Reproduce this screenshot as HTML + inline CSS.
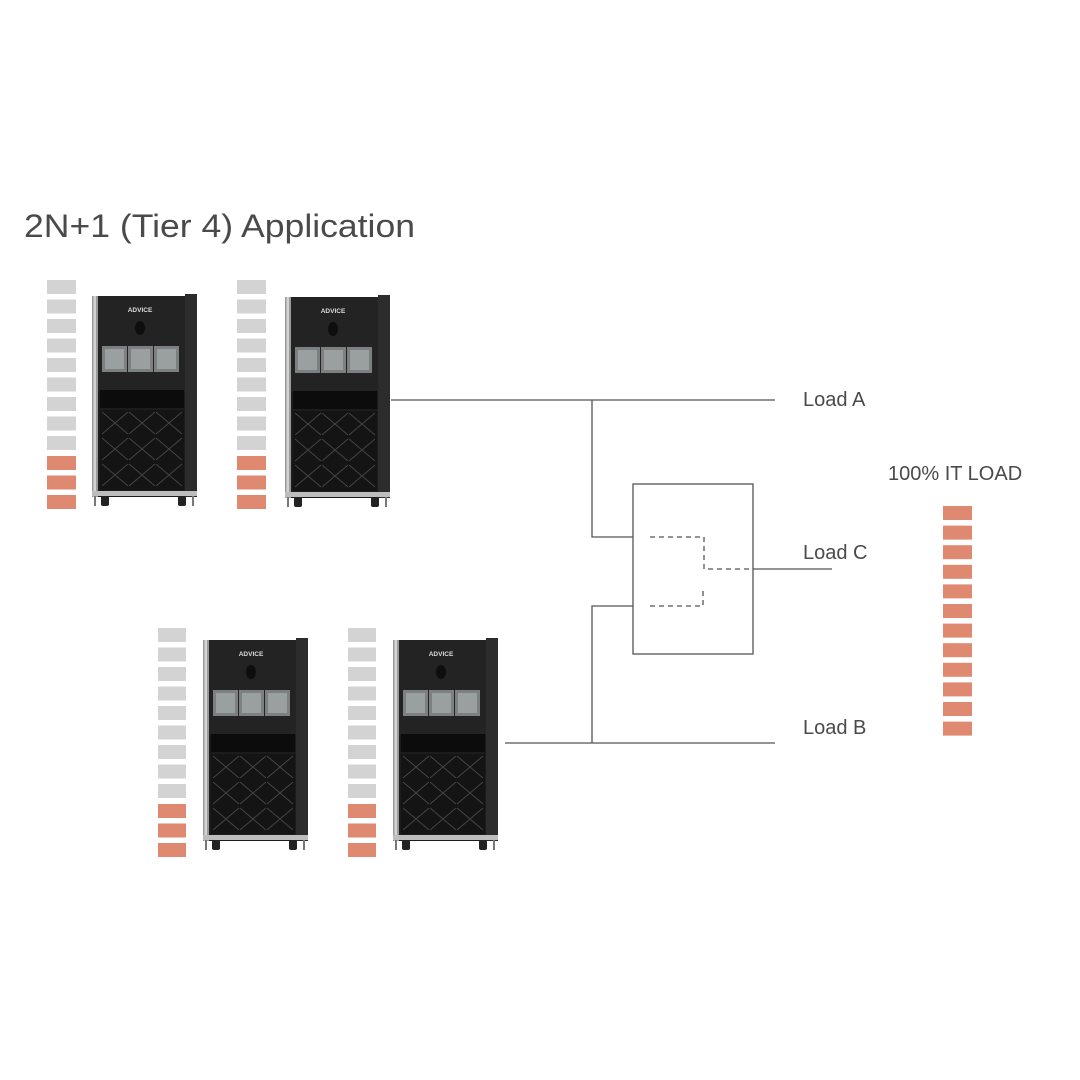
<!DOCTYPE html>
<html><head><meta charset="utf-8"><style>
html,body{margin:0;padding:0;background:#fff;}
svg{display:block;}
text{font-family:"Liberation Sans",sans-serif;}
</style></head><body>
<svg width="1080" height="1080" viewBox="0 0 1080 1080" xmlns="http://www.w3.org/2000/svg">
<rect width="1080" height="1080" fill="#fff"/>
<text x="24" y="237" font-size="32" fill="#4a4a4a" textLength="391" lengthAdjust="spacingAndGlyphs">2N+1 (Tier 4) Application</text>

<!-- bars col1 -->
<g fill="#d3d3d3">
<rect x="47" y="280" width="29" height="14"/><rect x="47" y="299.5" width="29" height="14"/><rect x="47" y="319" width="29" height="14"/><rect x="47" y="338.5" width="29" height="14"/><rect x="47" y="358" width="29" height="14"/><rect x="47" y="377.5" width="29" height="14"/><rect x="47" y="397" width="29" height="14"/><rect x="47" y="416.5" width="29" height="14"/><rect x="47" y="436" width="29" height="14"/>
<rect x="237" y="280" width="29" height="14"/><rect x="237" y="299.5" width="29" height="14"/><rect x="237" y="319" width="29" height="14"/><rect x="237" y="338.5" width="29" height="14"/><rect x="237" y="358" width="29" height="14"/><rect x="237" y="377.5" width="29" height="14"/><rect x="237" y="397" width="29" height="14"/><rect x="237" y="416.5" width="29" height="14"/><rect x="237" y="436" width="29" height="14"/>
<rect x="158" y="628" width="28" height="14"/><rect x="158" y="647.5" width="28" height="14"/><rect x="158" y="667" width="28" height="14"/><rect x="158" y="686.5" width="28" height="14"/><rect x="158" y="706" width="28" height="14"/><rect x="158" y="725.5" width="28" height="14"/><rect x="158" y="745" width="28" height="14"/><rect x="158" y="764.5" width="28" height="14"/><rect x="158" y="784" width="28" height="14"/>
<rect x="348" y="628" width="28" height="14"/><rect x="348" y="647.5" width="28" height="14"/><rect x="348" y="667" width="28" height="14"/><rect x="348" y="686.5" width="28" height="14"/><rect x="348" y="706" width="28" height="14"/><rect x="348" y="725.5" width="28" height="14"/><rect x="348" y="745" width="28" height="14"/><rect x="348" y="764.5" width="28" height="14"/><rect x="348" y="784" width="28" height="14"/>
</g>
<g fill="#df8a70">
<rect x="47" y="456" width="29" height="14"/><rect x="47" y="475.5" width="29" height="14"/><rect x="47" y="495" width="29" height="14"/>
<rect x="237" y="456" width="29" height="14"/><rect x="237" y="475.5" width="29" height="14"/><rect x="237" y="495" width="29" height="14"/>
<rect x="158" y="804" width="28" height="14"/><rect x="158" y="823.5" width="28" height="14"/><rect x="158" y="843" width="28" height="14"/>
<rect x="348" y="804" width="28" height="14"/><rect x="348" y="823.5" width="28" height="14"/><rect x="348" y="843" width="28" height="14"/>
<rect x="943" y="506" width="29" height="14"/><rect x="943" y="525.6" width="29" height="14"/><rect x="943" y="545.2" width="29" height="14"/><rect x="943" y="564.8" width="29" height="14"/><rect x="943" y="584.4" width="29" height="14"/><rect x="943" y="604" width="29" height="14"/><rect x="943" y="623.6" width="29" height="14"/><rect x="943" y="643.2" width="29" height="14"/><rect x="943" y="662.8" width="29" height="14"/><rect x="943" y="682.4" width="29" height="14"/><rect x="943" y="702" width="29" height="14"/><rect x="943" y="721.6" width="29" height="14"/>
</g>

<!-- cabinets -->
<g transform="translate(92,296)">
<rect x="0" y="0" width="105" height="201" fill="#1c1c1c"/><rect x="0" y="0" width="6" height="201" fill="#9a9a9a"/><rect x="1.5" y="0" width="2.5" height="201" fill="#d4d4d4"/><rect x="93" y="-2" width="12" height="203" fill="#2c2c2c"/><rect x="6" y="0" width="87" height="95" fill="#232323"/>
<text x="48" y="16" font-size="6.5" fill="#ddd" text-anchor="middle" font-weight="bold">ADVICE</text>
<ellipse cx="48" cy="32" rx="5" ry="7" fill="#0e0e0e"/>
<rect x="10" y="50" width="25" height="26" fill="#7c8080"/><rect x="36" y="50" width="25" height="26" fill="#7c8080"/><rect x="62" y="50" width="25" height="26" fill="#7c8080"/>
<rect x="13" y="53" width="19" height="20" fill="#9aa0a0"/><rect x="39" y="53" width="19" height="20" fill="#9aa0a0"/><rect x="65" y="53" width="19" height="20" fill="#9aa0a0"/>
<rect x="8" y="94" width="84" height="18" fill="#0c0c0c"/>
<rect x="8" y="114" width="84" height="80" fill="#141414"/>
<g stroke="#444" stroke-width="1" fill="none"><path d="M10 116l26 22M36 116l-26 22M37 116l26 22M63 116l-26 22M64 116l26 22M90 116l-26 22M10 142l26 22M36 142l-26 22M37 142l26 22M63 142l-26 22M64 142l26 22M90 142l-26 22M10 168l26 22M36 168l-26 22M37 168l26 22M63 168l-26 22M64 168l26 22M90 168l-26 22"/></g>
<rect x="0" y="195" width="105" height="5" fill="#bdbdbd"/>
<rect x="9" y="200" width="8" height="10" rx="2" fill="#222"/><rect x="86" y="200" width="8" height="10" rx="2" fill="#222"/><rect x="2" y="200" width="2" height="10" fill="#777"/><rect x="100" y="200" width="2" height="10" fill="#777"/>
</g>
<g transform="translate(285,297)">
<rect x="0" y="0" width="105" height="201" fill="#1c1c1c"/><rect x="0" y="0" width="6" height="201" fill="#9a9a9a"/><rect x="1.5" y="0" width="2.5" height="201" fill="#d4d4d4"/><rect x="93" y="-2" width="12" height="203" fill="#2c2c2c"/><rect x="6" y="0" width="87" height="95" fill="#232323"/>
<text x="48" y="16" font-size="6.5" fill="#ddd" text-anchor="middle" font-weight="bold">ADVICE</text>
<ellipse cx="48" cy="32" rx="5" ry="7" fill="#0e0e0e"/>
<rect x="10" y="50" width="25" height="26" fill="#7c8080"/><rect x="36" y="50" width="25" height="26" fill="#7c8080"/><rect x="62" y="50" width="25" height="26" fill="#7c8080"/>
<rect x="13" y="53" width="19" height="20" fill="#9aa0a0"/><rect x="39" y="53" width="19" height="20" fill="#9aa0a0"/><rect x="65" y="53" width="19" height="20" fill="#9aa0a0"/>
<rect x="8" y="94" width="84" height="18" fill="#0c0c0c"/>
<rect x="8" y="114" width="84" height="80" fill="#141414"/>
<g stroke="#444" stroke-width="1" fill="none"><path d="M10 116l26 22M36 116l-26 22M37 116l26 22M63 116l-26 22M64 116l26 22M90 116l-26 22M10 142l26 22M36 142l-26 22M37 142l26 22M63 142l-26 22M64 142l26 22M90 142l-26 22M10 168l26 22M36 168l-26 22M37 168l26 22M63 168l-26 22M64 168l26 22M90 168l-26 22"/></g>
<rect x="0" y="195" width="105" height="5" fill="#bdbdbd"/>
<rect x="9" y="200" width="8" height="10" rx="2" fill="#222"/><rect x="86" y="200" width="8" height="10" rx="2" fill="#222"/><rect x="2" y="200" width="2" height="10" fill="#777"/><rect x="100" y="200" width="2" height="10" fill="#777"/>
</g>
<g transform="translate(203,640)">
<rect x="0" y="0" width="105" height="201" fill="#1c1c1c"/><rect x="0" y="0" width="6" height="201" fill="#9a9a9a"/><rect x="1.5" y="0" width="2.5" height="201" fill="#d4d4d4"/><rect x="93" y="-2" width="12" height="203" fill="#2c2c2c"/><rect x="6" y="0" width="87" height="95" fill="#232323"/>
<text x="48" y="16" font-size="6.5" fill="#ddd" text-anchor="middle" font-weight="bold">ADVICE</text>
<ellipse cx="48" cy="32" rx="5" ry="7" fill="#0e0e0e"/>
<rect x="10" y="50" width="25" height="26" fill="#7c8080"/><rect x="36" y="50" width="25" height="26" fill="#7c8080"/><rect x="62" y="50" width="25" height="26" fill="#7c8080"/>
<rect x="13" y="53" width="19" height="20" fill="#9aa0a0"/><rect x="39" y="53" width="19" height="20" fill="#9aa0a0"/><rect x="65" y="53" width="19" height="20" fill="#9aa0a0"/>
<rect x="8" y="94" width="84" height="18" fill="#0c0c0c"/>
<rect x="8" y="114" width="84" height="80" fill="#141414"/>
<g stroke="#444" stroke-width="1" fill="none"><path d="M10 116l26 22M36 116l-26 22M37 116l26 22M63 116l-26 22M64 116l26 22M90 116l-26 22M10 142l26 22M36 142l-26 22M37 142l26 22M63 142l-26 22M64 142l26 22M90 142l-26 22M10 168l26 22M36 168l-26 22M37 168l26 22M63 168l-26 22M64 168l26 22M90 168l-26 22"/></g>
<rect x="0" y="195" width="105" height="5" fill="#bdbdbd"/>
<rect x="9" y="200" width="8" height="10" rx="2" fill="#222"/><rect x="86" y="200" width="8" height="10" rx="2" fill="#222"/><rect x="2" y="200" width="2" height="10" fill="#777"/><rect x="100" y="200" width="2" height="10" fill="#777"/>
</g>
<g transform="translate(393,640)">
<rect x="0" y="0" width="105" height="201" fill="#1c1c1c"/><rect x="0" y="0" width="6" height="201" fill="#9a9a9a"/><rect x="1.5" y="0" width="2.5" height="201" fill="#d4d4d4"/><rect x="93" y="-2" width="12" height="203" fill="#2c2c2c"/><rect x="6" y="0" width="87" height="95" fill="#232323"/>
<text x="48" y="16" font-size="6.5" fill="#ddd" text-anchor="middle" font-weight="bold">ADVICE</text>
<ellipse cx="48" cy="32" rx="5" ry="7" fill="#0e0e0e"/>
<rect x="10" y="50" width="25" height="26" fill="#7c8080"/><rect x="36" y="50" width="25" height="26" fill="#7c8080"/><rect x="62" y="50" width="25" height="26" fill="#7c8080"/>
<rect x="13" y="53" width="19" height="20" fill="#9aa0a0"/><rect x="39" y="53" width="19" height="20" fill="#9aa0a0"/><rect x="65" y="53" width="19" height="20" fill="#9aa0a0"/>
<rect x="8" y="94" width="84" height="18" fill="#0c0c0c"/>
<rect x="8" y="114" width="84" height="80" fill="#141414"/>
<g stroke="#444" stroke-width="1" fill="none"><path d="M10 116l26 22M36 116l-26 22M37 116l26 22M63 116l-26 22M64 116l26 22M90 116l-26 22M10 142l26 22M36 142l-26 22M37 142l26 22M63 142l-26 22M64 142l26 22M90 142l-26 22M10 168l26 22M36 168l-26 22M37 168l26 22M63 168l-26 22M64 168l26 22M90 168l-26 22"/></g>
<rect x="0" y="195" width="105" height="5" fill="#bdbdbd"/>
<rect x="9" y="200" width="8" height="10" rx="2" fill="#222"/><rect x="86" y="200" width="8" height="10" rx="2" fill="#222"/><rect x="2" y="200" width="2" height="10" fill="#777"/><rect x="100" y="200" width="2" height="10" fill="#777"/>
</g>

<!-- connectors -->
<g stroke="#555" stroke-width="1.3" fill="none">
<path d="M391 400H775M592 400V537H633M505 743H775M592 743V606H633M753 569H832"/>
<rect x="633" y="484" width="120" height="170"/>
</g>
<g stroke="#555" stroke-width="1.3" fill="none" stroke-dasharray="5,4">
<path d="M650 537H704V569H753M650 606H703V588"/>
</g>

<g font-size="20" fill="#4a4a4a">
<text x="803" y="406">Load A</text>
<text x="803" y="559">Load C</text>
<text x="803" y="734">Load B</text>
<text x="888" y="480">100% IT LOAD</text>
</g>
</svg>
</body></html>
